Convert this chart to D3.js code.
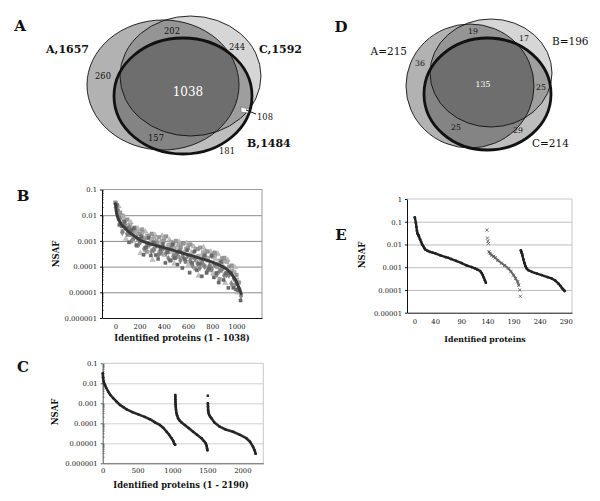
<!DOCTYPE html>
<html><head><meta charset="utf-8">
<script src="https://cdn.jsdelivr.net/npm/d3@7"></script>
<style>body{margin:0;background:#fff}svg{display:block}</style>
</head><body>
<svg id="c" width="600" height="501"></svg>
<script>
// ---------------- DATA ----------------
const vennALabels = ["A,1657", "C,1592", "B,1484"];
const vennACounts = [260, 202, 244, 1038, 108, 157, 181]; // A, AC, C, ABC, BC, AB, B
const vennDLabels = ["A=215", "B=196", "C=214"];
const vennDCounts = [36, 19, 17, 135, 25, 25, 29]; // A, AB, B, ABC, BC, AC, C

const yLabelsB = ["0.000001", "0.00001", "0.0001", "0.001", "0.01", "0.1"];
const yValuesB = [1e-6, 1e-5, 1e-4, 1e-3, 1e-2, 1e-1];
const xTicksB = [0, 200, 400, 600, 800, 1000];
const yLabelsE = ["0.00001", "0.0001", "0.001", "0.01", "0.1", "1"];
const yValuesE = [1e-5, 1e-4, 1e-3, 1e-2, 1e-1, 1];
const xTicksC = [0, 500, 1000, 1500, 2000];
const xTicksE = [0, 40, 90, 140, 190, 240, 290];

// Panel B: average curve
const bCurveP = [1,5,10,18,25,35,50,70,100,130,160,190,215,250,300,350,400,450,500,550,600,650,700,750,800,850,885,910,935,955,975,990,1005,1018,1028,1038];
const bCurveV = [0.028,0.018,0.012,0.0088,0.0070,0.0057,0.0045,0.0035,0.0025,0.0019,0.0015,0.0012,0.001,0.00087,0.00073,0.00063,0.00055,0.00047,0.00040,0.00034,0.00029,0.00025,0.00021,0.00018,0.00015,0.00012,0.0001,0.000085,0.000068,0.000054,0.00004,0.000031,0.000022,0.000016,0.000012,0.0000088];
// Panel B: replicate values (scatter)
const bRepP = [0,20,40,60,80,100,120,140,160,180,200,220,240,260,280,300,320,340,360,380,400,420,440,460,480,500,520,540,560,580,600,620,640,660,680,700,720,740,760,780,800,820,840,860,880,900,920,940,960,980,1000,1020];
const bRep1 = [0.031,0.015,0.0127,0.0024,0.0059,0.0068,0.0017,0.0024,0.0033,0.00065,0.0019,0.0028,0.0011,0.00038,0.0016,0.0019,0.00048,0.00098,0.0014,0.00032,0.001,0.0015,0.00048,0.00018,0.00084,0.001,0.00024,0.00056,0.00079,0.000155,0.00052,0.00073,0.00023,0.000084,0.00048,0.00055,0.00012,0.00029,0.00039,0.000072,0.00029,0.00035,0.000096,0.000033,0.00021,0.00022,0.000054,0.0001,0.00011,0.000019,0.000047,0.000024];
const bRep2 = [0.022,0.022,0.0069,0.0084,0.0012,0.004,0.0053,0.001,0.0018,0.003,0.00033,0.0015,0.0023,0.00059,0.00086,0.00018,0.0017,0.00059,0.00079,0.0016,0.00028,0.00062,0.0011,0.00036,0.00013,0.00056,0.00093,0.00021,0.00033,0.00081,0.00012,0.00035,0.0006,0.00017,0.000044,0.00025,0.00056,0.0001,0.00017,0.00038,0.000053,0.0002,0.00031,0.000066,0.00011,0.000023,0.00018,0.00005,0.000064,0.000095,0.00001,0.0000096];
const bRep3 = [0.025,0.0042,0.0037,0.0056,0.0031,0.00088,0.0027,0.0031,0.00068,0.0012,0.0015,0.00029,0.00054,0.0013,0.00027,0.00088,0.00028,0.0002,0.00049,0.00075,0.00014,0.00036,0.00017,0.00072,0.00021,0.00012,0.00041,0.000088,0.0002,0.00043,0.000058,0.00014,0.00039,0.000072,0.00013,0.000042,0.00026,0.000057,0.000085,0.00026,0.000038,0.000056,0.000024,0.00015,0.00003,0.000056,0.000015,0.000057,0.000015,0.000013,0.000012,0.0000048];
const bRep4 = [0.03,0.01,0.01,0.0096,0.004,0.00175,0.0042,0.0019,0.0024,0.0023,0.00088,0.0022,0.0013,0.0016,0.0007,0.0012,0.0014,0.00078,0.00037,0.001,0.0013,0.00047,0.00072,0.0009,0.00055,0.00028,0.0007,0.00077,0.00036,0.0005,0.0007,0.00022,0.00036,0.00048,0.00026,0.00019,0.00036,0.0004,0.00022,0.00011,0.00024,0.00028,0.00013,0.00017,0.00008,0.00016,0.00015,0.000063,0.000069,0.000061,0.000031,0.000013];
const bRep5 = [0.017,0.0075,0.0021,0.0044,0.0019,0.0033,0.00105,0.00136,0.00135,0.00078,0.0013,0.00049,0.00063,0.00076,0.00039,0.00044,0.00069,0.00029,0.0004,0.00052,0.00033,0.00021,0.00053,0.00025,0.00029,0.00036,0.00017,0.00025,0.00017,0.00026,0.00017,0.00011,0.0002,0.00013,0.000088,0.00015,0.0001,0.000067,0.00011,0.00008,0.00012,0.000049,0.000066,0.000077,0.000045,0.000047,0.000046,0.000022,0.000034,0.000023,0.000013,0.0000072];

// Panel C: three segments
const cSeg1P = [1,5,12,20,33,50,80,110,151,200,247,300,343,420,509,600,676,750,819,870,914,950,986,1010,1027,1038];
const cSeg1V = [0.032,0.02,0.013,0.010,0.0083,0.006,0.0038,0.0026,0.0018,0.0012,0.00083,0.00063,0.0005,0.00037,0.00028,0.00021,0.00016,0.00011,0.000083,0.000058,0.000038,0.000027,0.000018,0.000013,0.0000093,0.0000085];
const cSeg2P = [1039,1040,1041,1042,1044,1046,1050,1056,1065,1080,1100,1130,1176,1230,1295,1350,1414,1450,1475,1488,1495,1500];
const cSeg2V = [0.0026,0.0021,0.0016,0.0012,0.0009,0.0007,0.00047,0.00033,0.00025,0.00018,0.00014,0.00011,0.000083,0.000058,0.000038,0.000027,0.000018,0.000013,0.00001,0.0000075,0.0000055,0.0000045];
const cSeg3P = [1506,1508,1510,1513,1518,1525,1540,1557,1600,1676,1760,1866,1960,2057,2110,2152,2175,2190];
const cSeg3V = [0.001,0.0007,0.00045,0.00038,0.00031,0.00026,0.00021,0.00018,0.00011,0.000068,0.000049,0.000038,0.000027,0.000018,0.000012,0.0000068,0.0000045,0.000003];
const cLoneP = [1505];
const cLoneV = [0.0024];

// Panel E
const eSeg1P = [1,3,4,5,6,7,8,9,11,13,15,17,19,21,25,30,35,40,50,60,65,70,80,91,100,110,116,121,126,129,131,133,135,137];
const eSeg1V = [0.155,0.09,0.06,0.04,0.031,0.028,0.025,0.022,0.017,0.013,0.01,0.0085,0.007,0.006,0.0053,0.0047,0.0044,0.0041,0.0033,0.0028,0.0026,0.0023,0.0019,0.0015,0.0012,0.001,0.00089,0.00078,0.00068,0.00055,0.00045,0.00035,0.00027,0.00021];
const eSeg2P = [143,145,148,152,155,160,167,173,180,185,190,194,198,200];
const eSeg2V = [0.0048,0.004,0.0034,0.003,0.0026,0.002,0.0015,0.0012,0.00089,0.00065,0.00045,0.00032,0.00023,0.00016];
const eLooseP = [139,140,141,142,202,203];
const eLooseV = [0.043,0.019,0.014,0.011,0.0001,0.000053];
const eSeg3P = [204,205,206,207,209,211,213,215,218,225,235,244,255,263,270,276,280,283,286,288];
const eSeg3V = [0.0055,0.0048,0.0041,0.0033,0.0022,0.0015,0.0011,0.00089,0.00075,0.00063,0.00052,0.00045,0.00037,0.00032,0.00026,0.00019,0.00015,0.00012,0.0001,0.00009];

// ---------------- DRAWING ----------------
const FONT = "'DejaVu Serif', serif";
const svg = d3.select("#c");
const zip = (a, b) => a.map((d, i) => [d, b[i]]);

function txt(x, y, s, size, opt = {}) {
  return svg.append("text").attr("x", x).attr("y", y).text(s)
    .attr("font-family", FONT).attr("font-size", size)
    .attr("font-weight", opt.bold ? "bold" : "normal")
    .attr("fill", opt.fill || "#111")
    .attr("text-anchor", opt.anchor || "middle");
}

function venn(ellipses) {
  const g = svg.append("g");
  ellipses.forEach(e => g.append("ellipse").attr("cx", e.cx).attr("cy", e.cy).attr("rx", e.rx).attr("ry", e.ry)
    .attr("fill", "#000").attr("fill-opacity", e.op).attr("stroke", "none"));
  ellipses.forEach(e => g.append("ellipse").attr("cx", e.cx).attr("cy", e.cy).attr("rx", e.rx).attr("ry", e.ry)
    .attr("fill", "none").attr("stroke", "#111").attr("stroke-width", e.sw));
}

// Panel A
txt(20, 31, "A", 15, {bold: true});
venn([
  {cx: 163, cy: 85, rx: 76, ry: 65, op: 0.3, sw: 0.9},
  {cx: 190.5, cy: 76, rx: 70.5, ry: 60, op: 0.16, sw: 0.9},
  {cx: 183, cy: 96, rx: 69, ry: 58, op: 0.26, sw: 2.8}
]);
txt(89, 53, vennALabels[0], 11, {bold: true, anchor: "end"});
txt(259, 53, vennALabels[1], 11, {bold: true, anchor: "start"});
txt(247, 147, vennALabels[2], 11, {bold: true, anchor: "start"});
const aPos = [[103, 79], [172, 34], [237, 50], [188, 96], [265, 120], [156, 141], [227, 154]];
vennACounts.forEach((c, i) => {
  const big = i === 3;
  txt(aPos[i][0], aPos[i][1], c, big ? 12 : 8.3, {fill: big ? "#fff" : "#111"});
});
svg.append("path").attr("d", "M241,107 L249,109 L248,113 L241,112 Z").attr("fill", "#fff").attr("stroke", "#555").attr("stroke-width", 0.5);
svg.append("line").attr("x1", 246).attr("y1", 110).attr("x2", 256).attr("y2", 114).attr("stroke", "#111").attr("stroke-width", 1);

// Panel D
txt(341, 32, "D", 15, {bold: true});
venn([
  {cx: 470, cy: 86, rx: 64, ry: 62, op: 0.3, sw: 0.9},
  {cx: 491, cy: 73, rx: 61, ry: 54, op: 0.16, sw: 0.9},
  {cx: 487.5, cy: 94, rx: 63.5, ry: 56, op: 0.26, sw: 2.8}
]);
txt(407, 55, vennDLabels[0], 10.5, {anchor: "end"});
txt(552, 45, vennDLabels[1], 10.5, {anchor: "start"});
txt(532, 147, vennDLabels[2], 10.5, {anchor: "start"});
const dPos = [[420, 66], [473, 34], [524, 41], [483, 87], [541, 90], [456, 130], [518, 133]];
vennDCounts.forEach((c, i) => {
  txt(dPos[i][0], dPos[i][1], c, 7.8, {fill: i === 3 ? "#fff" : "#111"});
});

// Log-plot frame helper
function frame(x, y, yVals, yLabs, xVals, o) {
  const [xl, xr] = x.range();
  const [yb, yt] = y.range();
  const g = svg.append("g");
  g.append("g").attr("transform", `translate(${xl},0)`)
    .call(d3.axisLeft(y).tickValues(yVals.slice(1, -1)).tickSize(-(xr - xl)).tickFormat(""))
    .call(s => s.select(".domain").remove())
    .call(s => s.selectAll("line").attr("stroke", o.grid).attr("stroke-width", 1));
  g.append("line").attr("x1", xl).attr("x2", xr).attr("y1", yt).attr("y2", yt).attr("stroke", o.border);
  g.append("line").attr("x1", xr).attr("x2", xr).attr("y1", yt).attr("y2", yb).attr("stroke", o.border);
  const minors = [];
  const [d0, d1] = y.domain();
  for (let k = Math.round(Math.log10(d0)); k < Math.round(Math.log10(d1)); k++)
    for (let m = 2; m <= 9; m++) minors.push(m * Math.pow(10, k));
  if (o.minor) g.selectAll(".mn").data(minors).join("line")
    .attr("x1", xl).attr("x2", xl + 2).attr("y1", d => y(d)).attr("y2", d => y(d))
    .attr("stroke", "#444").attr("stroke-width", 0.6);
  g.append("g").attr("transform", `translate(${xl},0)`)
    .call(d3.axisLeft(y).tickValues(yVals).tickFormat((d, i) => yLabs[i]).tickSize(2).tickSizeOuter(0).tickPadding(3))
    .call(s => s.select(".domain").attr("stroke", o.axis))
    .call(s => s.selectAll("line").attr("stroke", o.axis))
    .call(s => s.selectAll("text").attr("font-family", FONT).attr("font-size", 6.8).attr("fill", "#111").attr("dy", "0.35em"));
  g.append("g").attr("transform", `translate(0,${yb})`)
    .call(d3.axisBottom(x).tickValues(xVals).tickFormat(d => d).tickSize(0).tickSizeOuter(0).tickPadding(o.xpad))
    .call(s => s.select(".domain").attr("stroke", o.axis))
    .call(s => s.selectAll("text").attr("font-family", FONT).attr("font-size", 6.8).attr("fill", "#111"));
  return g;
}

function sym(g, pts, x, y, type, size, fill, stroke, sw) {
  g.selectAll(null).data(pts).join("path")
    .attr("transform", d => `translate(${x(d[0])},${y(d[1])})`)
    .attr("d", d3.symbol().type(type).size(size)())
    .attr("fill", fill).attr("stroke", stroke || "none").attr("stroke-width", sw || 0.4);
}
function curve(g, pts, x, y, col, w) {
  g.append("path").datum(pts).attr("d", d3.line().x(d => x(d[0])).y(d => y(d[1])))
    .attr("fill", "none").attr("stroke", col).attr("stroke-width", w).attr("stroke-linejoin", "round").attr("stroke-linecap", "round");
}

// Panel B
txt(23, 201, "B", 15, {bold: true});
const xB = d3.scaleLinear().domain([-110, 1210]).range([102, 262]);
const yB = d3.scaleLog().domain([1e-6, 0.1]).range([318, 189.5]);
frame(xB, yB, yValuesB, yLabelsB, xTicksB, {grid: "#8a8a8a", border: "#999", axis: "#111", minor: true, xpad: 6});
const pB = svg.append("g");
sym(pB, zip(bRepP.map(p => p + 7), bRep2), xB, yB, d3.symbolTriangle, 12, "#c2c2c2", "#a0a0a0");
sym(pB, zip(bRepP.map(p => p + 3), bRep4), xB, yB, d3.symbolSquare, 12, "#b0b0b0", "#909090");
sym(pB, zip(bRepP, bRep1), xB, yB, d3.symbolSquare, 12, "#9a9a9a", "#777");
sym(pB, zip(bRepP.map(p => p + 17), bRep5), xB, yB, d3.symbolDiamond, 11, "#858585", "#666");
sym(pB, zip(bRepP.map(p => p + 13), bRep3), xB, yB, d3.symbolSquare, 10, "#6a6a6a", "#555");
curve(pB, zip(bCurveP, bCurveV), xB, yB, "#3a3a3a", 3);
txt(182, 341, "Identified proteins (1 - 1038)", 8.3, {bold: true});
txt(0, 0, "NSAF", 8.5, {bold: true}).attr("transform", "translate(59,254) rotate(-90)");

// Panel C
txt(23, 372, "C", 15, {bold: true});
const xC = d3.scaleLinear().domain([0, 2300]).range([102.7, 263.3]);
const yC = d3.scaleLog().domain([1e-6, 0.1]).range([463.3, 363.3]);
frame(xC, yC, yValuesB, yLabelsB, xTicksC, {grid: "#d0d0d0", border: "#c8c8c8", axis: "#555", minor: true, xpad: 5});
const pC = svg.append("g");
[[cSeg1P, cSeg1V], [cSeg2P, cSeg2V], [cSeg3P, cSeg3V]].forEach(([p, v]) => {
  curve(pC, zip(p, v), xC, yC, "#2a2a2a", 2.6);
  sym(pC, zip(p, v), xC, yC, d3.symbolCircle, 5, "#222");
});
sym(pC, zip(cLoneP, cLoneV), xC, yC, d3.symbolSquare, 6, "#222");
txt(181, 488, "Identified proteins (1 - 2190)", 8.3, {bold: true});
txt(0, 0, "NSAF", 8.5, {bold: true}).attr("transform", "translate(58,412) rotate(-90)");

// Panel E
txt(341, 240, "E", 15, {bold: true});
const xE = d3.scaleLinear().domain([-14, 302]).range([407, 572]);
const yE = d3.scaleLog().domain([1e-5, 1]).range([312.7, 199]);
frame(xE, yE, yValuesE, yLabelsE, xTicksE, {grid: "#bdbdbd", border: "#c8c8c8", axis: "#111", minor: false, xpad: 6});
const pE = svg.append("g");
curve(pE, zip(eSeg1P, eSeg1V), xE, yE, "#222", 2.4);
sym(pE, zip(eSeg1P, eSeg1V), xE, yE, d3.symbolCircle, 6, "#222");
curve(pE, zip(eSeg2P, eSeg2V), xE, yE, "#777", 2.2);
sym(pE, zip(eSeg2P.concat(eLooseP), eSeg2V.concat(eLooseV)), xE, yE, d3.symbolTimes || d3.symbolX, 8, "none", "#555", 0.8);
curve(pE, zip(eSeg3P, eSeg3V), xE, yE, "#222", 2.4);
sym(pE, zip(eSeg3P, eSeg3V), xE, yE, d3.symbolCircle, 6, "#222");
txt(485, 342, "Identified proteins", 7.8, {bold: true});
txt(0, 0, "NSAF", 8.5, {bold: true}).attr("transform", "translate(365,255) rotate(-90)");
</script>
</body></html>
